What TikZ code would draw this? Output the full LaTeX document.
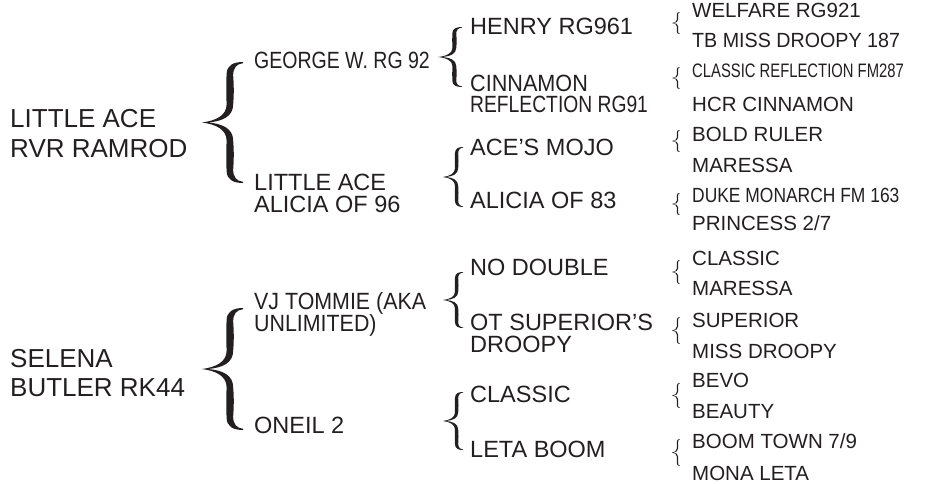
\documentclass[tikz,border=0pt]{standalone}
\usepackage{graphicx}
\usepackage{fontspec}
\setmainfont{Liberation Sans}
\definecolor{ink}{HTML}{231F20}
% curly brace, tip on the left: left x, right x, top y, bottom y
\newcommand{\pedbrace}[4]{%
  \begin{scope}[shift={(#1,{(#3+#4)/2})},xscale={#2-#1},yscale={(#4-#3)/2}]
    \fill[ink] (0,0) .. controls (0.35,0.03) and (0.6,0.12) .. (0.6,0.3)
      .. controls (0.59,0.5) and (0.59,0.65) .. (0.6,0.8)
      .. controls (0.6,0.95) and (0.78,1) .. (1,1) -- (1,0.98)
      .. controls (0.84,0.97) and (0.76,0.9) .. (0.76,0.78)
      .. controls (0.78,0.6) and (0.78,0.45) .. (0.76,0.3)
      .. controls (0.76,0.1) and (0.5,0.02) .. (0.15,0)
      .. controls (0.5,-0.02) and (0.76,-0.1) .. (0.76,-0.3)
      .. controls (0.78,-0.45) and (0.78,-0.6) .. (0.76,-0.78)
      .. controls (0.76,-0.9) and (0.84,-0.97) .. (1,-0.98) -- (1,-1)
      .. controls (0.78,-1) and (0.6,-0.95) .. (0.6,-0.8)
      .. controls (0.59,-0.65) and (0.59,-0.5) .. (0.6,-0.3)
      .. controls (0.6,-0.12) and (0.35,-0.03) .. (0,0) -- cycle;
  \end{scope}}

\begin{document}
\begin{tikzpicture}[x=1pt,y=-1pt,
  every node/.style={inner sep=0pt,anchor=base west,text=ink,align=left},
  gen1/.style={font=\fontsize{26}{29}\selectfont},
  gen2/.style={font=\fontsize{23.5}{22}\selectfont},
  gen3/.style={font=\fontsize{23.5}{21.5}\selectfont},
  gen4/.style={font=\fontsize{20.5}{24}\selectfont}]
  \useasboundingbox (0,0) rectangle (928,484);

  % dogs (two-line nodes sit on their last line)
  \node[gen1] (ace) at (10,157) {LITTLE ACE\\RVR RAMROD};
  \node[gen1] (sel) at (10,396) {SELENA\\BUTLER RK44};
  \pedbrace{202}{243}{62}{183}
  \pedbrace{202}{243}{308}{430}

  % parents
  \node[gen2] (george) at (254,69) {\scalebox{0.83}[1]{GEORGE W. RG 92}};
  \node[gen2] (alicia) at (254,212) {LITTLE ACE\\ALICIA OF 96};
  \node[gen2] (tommie) at (254,331) {\scalebox{0.91}[1]{VJ TOMMIE (AKA}\\\scalebox{0.91}[1]{UNLIMITED)}};
  \node[gen2] (oneil) at (254,433) {ONEIL 2};
  \pedbrace{438}{462}{27}{87}
  \pedbrace{443}{463}{147}{207}
  \pedbrace{443}{463}{272}{328}
  \pedbrace{443}{463}{392}{450}

  % grandparents
  \node[gen3] (henry) at (470,35) {HENRY RG961};
  \node[gen3] (cinn) at (470,113) {\scalebox{0.92}[1]{CINNAMON}\\\scalebox{0.82}[1]{REFLECTION RG91}};
  \node[gen3] (mojo) at (470,155) {ACE’S MOJO};
  \node[gen3] (al83) at (470,208) {ALICIA OF 83};
  \node[gen3] (nodbl) at (470,275) {NO DOUBLE};
  \node[gen3] (otsup) at (470,352) {OT SUPERIOR’S\\DROOPY};
  \node[gen3] (classic) at (470,402) {CLASSIC};
  \node[gen3] (leta) at (470,457) {LETA BOOM};
  \foreach \t/\b in {12/34,67/89,130/152,193/215,260/284,317/344,383/408,439/466}
    {\pedbrace{672}{680}{\t}{\b}}

  % great-grandparents
  \node[gen4] (welf) at (692,18) {WELFARE RG921};
  \node[gen4] (tbmiss) at (692,48) {\scalebox{0.96}[1]{TB MISS DROOPY 187}};
  \node[gen4,font=\fontsize{19.5}{24}\selectfont] (clref) at (692,78) {\scalebox{0.76}[1]{CLASSIC REFLECTION FM287}};
  \node[gen4] (hcr) at (692,112) {HCR CINNAMON};
  \node[gen4] (bold) at (692,142) {BOLD RULER};
  \node[gen4] (mar) at (692,172) {MARESSA};
  \node[gen4] (duke) at (692,202) {\scalebox{0.85}[1]{DUKE MONARCH FM 163}};
  \node[gen4] (prin) at (692,230) {PRINCESS 2/7};
  \node[gen4] (clas) at (692,265) {CLASSIC};
  \node[gen4] (mar2) at (692,295) {MARESSA};
  \node[gen4] (sup) at (692,327) {SUPERIOR};
  \node[gen4] (miss) at (692,358) {MISS DROOPY};
  \node[gen4] (bevo) at (692,387) {BEVO};
  \node[gen4] (beauty) at (692,418) {BEAUTY};
  \node[gen4] (boom) at (692,448) {BOOM TOWN 7/9};
  \node[gen4] (mona) at (692,480) {MONA LETA};
\end{tikzpicture}
\end{document}
